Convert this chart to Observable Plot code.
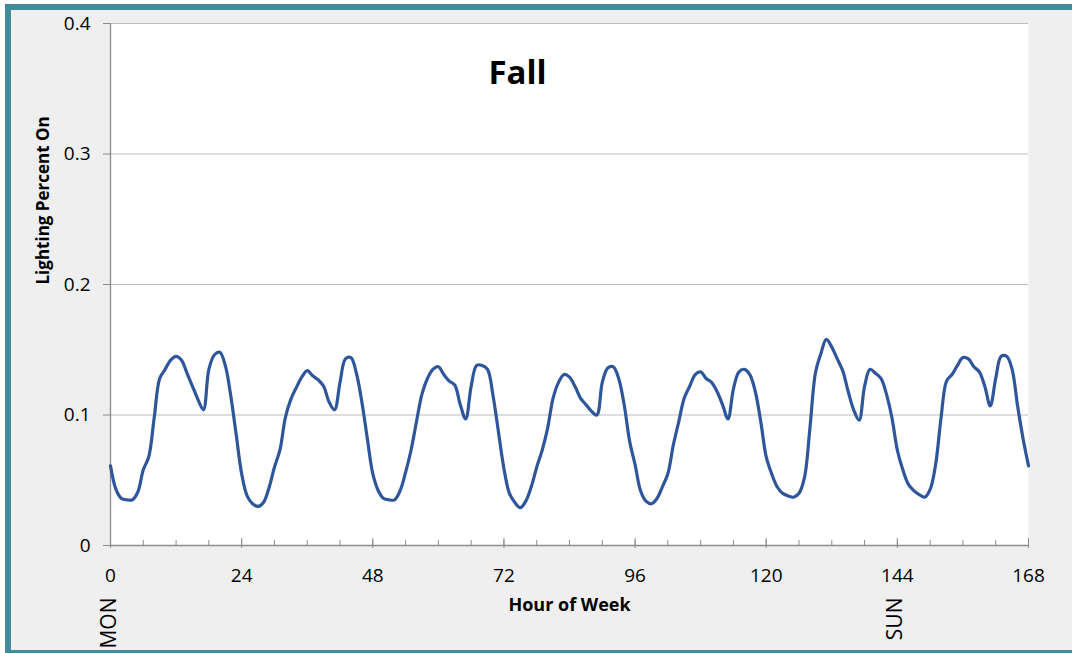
<!DOCTYPE html>
<html>
<head>
<meta charset="utf-8">
<script src="https://cdn.jsdelivr.net/npm/d3@7"></script>
<script src="https://cdn.jsdelivr.net/npm/@observablehq/plot@0.6"></script>
<style>
  html, body { margin: 0; padding: 0; background: #ffffff; width: 1072px; height: 653px; overflow: hidden; }
  #panel { position: absolute; left: 5px; top: 4px; width: 1061px; height: 640px;
           border-top: 6px solid #448b99; border-left: 6px solid #448b99; border-bottom: 6px solid #448b99;
           border-right: none; background: #efefef; }
  #chart { position: absolute; left: 0; top: 0; }
</style>
</head>
<body>
<div id="panel"></div>
<div id="chart"></div>
<script>
// Hour of week (0..168) and lighting fraction on
const hours = d3.range(0, 169);
const lighting = [
  0.061, 0.043, 0.036, 0.035, 0.035, 0.041, 0.058, 0.068, 0.098, 0.128,
  0.135, 0.142, 0.145, 0.142, 0.132, 0.122, 0.112, 0.104, 0.135, 0.146,
  0.148, 0.138, 0.115, 0.085, 0.055, 0.038, 0.032, 0.030, 0.033, 0.044,
  0.060, 0.073, 0.098, 0.112, 0.121, 0.129, 0.134, 0.130, 0.127, 0.122,
  0.110, 0.104, 0.125, 0.143, 0.144, 0.132, 0.110, 0.082, 0.055, 0.042,
  0.036, 0.035, 0.035, 0.042, 0.056, 0.073, 0.095, 0.116, 0.128, 0.135,
  0.137, 0.131, 0.126, 0.123, 0.108, 0.097, 0.122, 0.138, 0.138, 0.135,
  0.115, 0.087, 0.059, 0.040, 0.033, 0.029, 0.034, 0.045, 0.060, 0.073,
  0.090, 0.113, 0.125, 0.131, 0.129, 0.122, 0.113, 0.108, 0.103, 0.100,
  0.125, 0.136, 0.137, 0.128, 0.108, 0.080, 0.062, 0.042, 0.034, 0.032,
  0.036, 0.045, 0.055, 0.077, 0.095, 0.113, 0.122, 0.131, 0.133, 0.128,
  0.125, 0.118, 0.108, 0.097, 0.120, 0.133, 0.135, 0.131, 0.118, 0.095,
  0.068, 0.055, 0.045, 0.040, 0.038, 0.037, 0.040, 0.052, 0.090, 0.132,
  0.147, 0.158, 0.152, 0.143, 0.134, 0.118, 0.104, 0.096, 0.122, 0.135,
  0.132, 0.128, 0.116, 0.098, 0.073, 0.058, 0.047, 0.042, 0.039, 0.037,
  0.043, 0.062, 0.098, 0.126, 0.131, 0.138, 0.144, 0.143, 0.137, 0.133,
  0.122, 0.107, 0.128, 0.145, 0.145, 0.135, 0.107, 0.082, 0.061
];
const xMajorTicks = [0, 24, 48, 72, 96, 120, 144, 168];
const xMinorTicks = d3.range(0, 169, 6);
const yTicks = [0, 0.1, 0.2, 0.3, 0.4];
const yTickLabels = ["0", "0.1", "0.2", "0.3", "0.4"];
const dayHours = [0, 144];
const dayNames = ["MON", "SUN"];
const title = "Fall";
const xLabel = "Hour of Week";
const yLabel = "Lighting Percent On";

const data = hours.map((h, i) => ({ h, v: lighting[i] }));
const font = "'Open Sans', 'DejaVu Sans', sans-serif";

const chart = Plot.plot({
  width: 1072,
  height: 653,
  marginLeft: 110,
  marginRight: 44,
  marginTop: 23,
  marginBottom: 108,
  style: { background: "transparent", fontFamily: font, color: "#000" },
  x: { domain: [0, 168] },
  y: { domain: [0, 0.4] },
  marks: [
    Plot.frame({ fill: "white", stroke: null }),
    Plot.gridY({ ticks: yTicks.slice(1), stroke: "#bdbdbd", strokeOpacity: 1, strokeWidth: 1.2 }),
    Plot.ruleY([0], { stroke: "#8c8c8c", strokeWidth: 1.3 }),
    Plot.ruleX([0], { stroke: "#8c8c8c", strokeWidth: 1.3 }),
    Plot.axisY({ ticks: yTicks, tickFormat: (d, i) => yTickLabels[i], tickSize: 7, tickPadding: 13,
                 stroke: "#8c8c8c", fontSize: 19, label: null, fill: "#000" }),
    Plot.axisX({ ticks: xMajorTicks, tickSize: 3, tickPadding: 20, stroke: "#8c8c8c",
                 fontSize: 19, label: null, fill: "#000" }),
    Plot.axisX({ ticks: xMajorTicks, tickSize: -7, text: null, stroke: "#8c8c8c", label: null }),
    Plot.axisX({ ticks: xMinorTicks, tickSize: -5, text: null, stroke: "#8c8c8c", label: null }),
    Plot.line(data, { x: "h", y: "v", curve: "catmull-rom", stroke: "#2f559a", strokeWidth: 3.2 }),
    Plot.text([title], { frameAnchor: "top", dx: -52, dy: 37, fontSize: 33, fontWeight: "bold", fill: "#000" }),
    Plot.text([xLabel], { frameAnchor: "bottom", dy: 65, fontSize: 18, fontWeight: "bold", fill: "#000" }),
    Plot.text([yLabel], { frameAnchor: "left", dx: -67, rotate: -90, fontSize: 17, fontWeight: "bold", fill: "#000" }),
    Plot.text(dayHours, { x: d => d, text: (d, i) => dayNames[i], frameAnchor: "bottom", dx: 5, dy: 52,
                          rotate: -90, textAnchor: "end", fontSize: 21, fill: "#000" })
  ]
});
document.getElementById("chart").appendChild(chart);
</script>
</body>
</html>
